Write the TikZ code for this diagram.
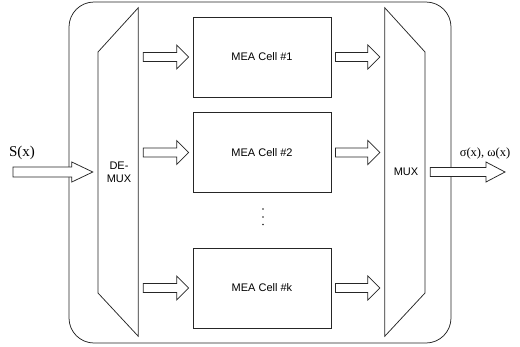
\documentclass[tikz,border=0pt]{standalone}
\usepackage{fontspec}
\setmainfont{Liberation Serif}
\setsansfont{Liberation Sans}
\usetikzlibrary{calc}
\tikzset{
  line/.style={draw=black!85, line width=0.75pt},
  cellbox/.style={line, rectangle, minimum width=138pt, minimum height=80pt, inner sep=0pt, font=\sffamily\fontsize{11}{13}\selectfont},
  lbl/.style={inner sep=0pt, font=\sffamily\fontsize{11}{13}\selectfont, align=center},
  blockarr/.style={line, fill=white, line join=miter},
  ghost/.style={rectangle, inner sep=0pt, minimum width=40pt, minimum height=328pt},
  dotmark/.style={circle, fill=black!85, inner sep=0pt, minimum size=1.6pt}
}
% #1 start, #2 end, #3 shaft half-height, #4 head half-height, #5 head length
\newcommand\blockarrow[5]{%
  \draw[blockarr] let \p1=#1, \p2=#2 in
    (\x1,\y1+#3) -- (\x2-#5,\y1+#3) -- (\x2-#5,\y1+#4) -- (\x2,\y1)
    -- (\x2-#5,\y1-#4) -- (\x2-#5,\y1-#3) -- (\x1,\y1-#3) -- cycle;}
\begin{document}
\begin{tikzpicture}[x=1pt,y=-1pt]
\useasboundingbox (0,0) rectangle (520,346);
% outer frame
\draw[line, rounded corners=25pt] (69,2) rectangle (451,343);
% demux and mux outlines
\node[ghost] (dm) at (118,172) {};
\node[ghost] (mx) at (405,172) {};
\draw[line] (dm.north east) -- (dm.south east) -- (98,293) -- (98,52) -- cycle;
\draw[line] (mx.north west) -- (mx.south west) -- (425,293) -- (425,52) -- cycle;
\node[lbl] (dmt) at (119,172) {DE-\\MUX};
\node[lbl] (mxt) at (406,172) {MUX};
% cells
\node[cellbox] (c1) at (262,57) {MEA Cell \#1};
\node[cellbox] (c2) at (262,152.5) {MEA Cell \#2};
\node[cellbox] (ck) at (262,288) {MEA Cell \#k};
\node[dotmark] (d1) at (263,209) {};
\node[dotmark] (d2) at (263,217) {};
\node[dotmark] (d3) at (263,224.5) {};
% arrows demux -> cells -> mux
\foreach \c in {c1,c2,ck}{
  \blockarrow{([xshift=5pt]dm.east |- \c.west)}{([xshift=-4pt]\c.west)}{4.5pt}{12pt}{12pt}
  \blockarrow{([xshift=4pt]\c.east)}{([xshift=-5pt]mx.west |- \c.east)}{4.5pt}{12pt}{12pt}
}
% input and output
\coordinate (in) at (13,172);
\coordinate (out) at (505,172);
\blockarrow{(in)}{([xshift=-5pt]dm.west)}{5pt}{10pt}{21pt}
\blockarrow{([xshift=5pt]mx.east)}{(out)}{4.5pt}{10pt}{19pt}
\node[inner sep=0pt, font=\fontsize{15}{17}\selectfont] (sx) at (22,153) {S(x)};
\node[inner sep=0pt, font=\fontsize{12.5}{15}\selectfont] (sw) at (485,153) {σ(x), ω(x)};
\end{tikzpicture}
\end{document}
